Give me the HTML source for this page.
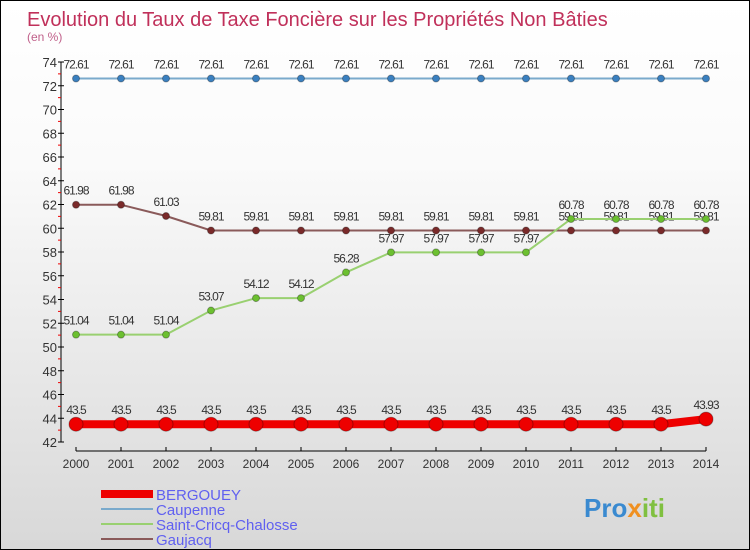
<!DOCTYPE html>
<html><head><meta charset="utf-8"><style>
body{margin:0}
#c{position:relative;width:748px;height:548px;border:1px solid #000;background:linear-gradient(#fff,#fafafa 30%,#d8d8d8);font-family:"Liberation Sans",sans-serif;overflow:hidden}
</style></head><body>
<div id="c">
<svg id="s" width="748" height="548" xmlns="http://www.w3.org/2000/svg">
<text x="26" y="25" font-size="20" fill="#c0305a">Evolution du Taux de Taxe Foncière sur les Propriétés Non Bâties</text>
<text x="26" y="40" font-size="12" fill="#c0608a">(en %)</text>
<g id="axes"></g><g id="series"></g>
<g>
<rect x="100" y="489" width="52" height="8" fill="#e00"/>
<text x="155" y="499" font-size="15" fill="#6060f0">BERGOUEY</text>
<rect x="100" y="507" width="52" height="2" fill="#7aaacc"/>
<text x="155" y="514" font-size="15" fill="#6060f0">Caupenne</text>
<rect x="100" y="522" width="52" height="2" fill="#99d070"/>
<text x="155" y="529" font-size="15" fill="#6060f0">Saint-Cricq-Chalosse</text>
<rect x="100" y="537" width="52" height="2" fill="#8a5a5a"/>
<text x="155" y="544" font-size="15" fill="#6060f0">Gaujacq</text>
</g>
<text x="583" y="516" font-size="26" font-weight="bold" fill="#3a8ad0">Pro<tspan fill="#f09020">x</tspan><tspan fill="#80c040">iti</tspan></text>
</svg></div>
<script>
const years=[2000,2001,2002,2003,2004,2005,2006,2007,2008,2009,2010,2011,2012,2013,2014];
const bergouey=[43.5,43.5,43.5,43.5,43.5,43.5,43.5,43.5,43.5,43.5,43.5,43.5,43.5,43.5,43.93];
const caupenne=[72.61,72.61,72.61,72.61,72.61,72.61,72.61,72.61,72.61,72.61,72.61,72.61,72.61,72.61,72.61];
const saintCricq=[51.04,51.04,51.04,53.07,54.12,54.12,56.28,57.97,57.97,57.97,57.97,60.78,60.78,60.78,60.78];
const gaujacq=[61.98,61.98,61.03,59.81,59.81,59.81,59.81,59.81,59.81,59.81,59.81,59.81,59.81,59.81,59.81];
const yTicks=[42,44,46,48,50,52,54,56,58,60,62,64,66,68,70,72,74];
const NS="http://www.w3.org/2000/svg";
const X=i=>75+i*45, Y=v=>441-(v-42)*11.875;
function mk(t,a,p){const e=document.createElementNS(NS,t);for(const k in a)e.setAttribute(k,a[k]);p.appendChild(e);return e;}
const ax=document.getElementById('axes'), sg=document.getElementById('series');
let l=mk('line',{x1:60,y1:Y(74),x2:60,y2:Y(42),stroke:'#000'},ax);

l=mk('line',{x1:X(0),y1:450,x2:X(14),y2:450,stroke:'#000'},ax);

yTicks.forEach(v=>{mk('line',{x1:57,y1:Y(v),x2:63,y2:Y(v),stroke:'#000'},ax);
 if(v<74)mk('line',{x1:57,y1:Y(v+1),x2:60,y2:Y(v+1),stroke:'#e00'},ax);
 const t=mk('text',{x:56,y:Y(v)+5,'font-size':13,'text-anchor':'end',fill:'#333'},ax);t.textContent=v;
 });
years.forEach((y,i)=>{mk('line',{x1:X(i),y1:446,x2:X(i),y2:450,stroke:'#000'},ax);
 const t=mk('text',{x:X(i),y:467,'font-size':12,'text-anchor':'middle',fill:'#333'},ax);t.textContent=y;
 });
function series(d,name,col,w,r,fill){
 const g=mk('g',{},sg);
 mk('polyline',{points:d.map((v,i)=>X(i)+','+Y(v)).join(' '),fill:'none',stroke:col,'stroke-width':w},g);
 d.forEach((v,i)=>{const c=mk('circle',{cx:X(i),cy:Y(v),r:r,fill:fill,stroke:'rgba(0,0,0,0.3)'},g);
  
  const t=mk('text',{x:X(i),y:Y(v)-10,'font-size':12,'text-anchor':'middle',fill:'#333','letter-spacing':'-1'},g);t.textContent=v;
  });
}
series(gaujacq,'gaujacq','#8a5a5a',2,3.5,'#7a2a2a');
series(saintCricq,'saint-cricq','#99d070',2,3.5,'#6cc030');
series(caupenne,'caupenne','#7aaacc',2,3.5,'#3a80c0');
series(bergouey,'bergouey','#e00',8,7,'#e00');
</script>
</body></html>
